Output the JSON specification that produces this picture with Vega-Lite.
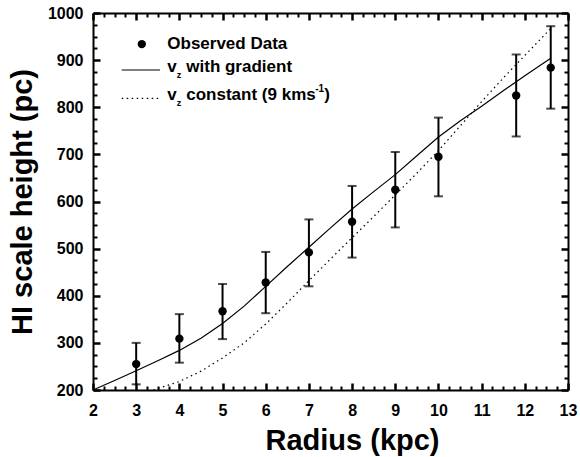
{
  "$schema": "https://vega.github.io/schema/vega-lite/v6.json",
  "width": 475,
  "height": 377,
  "autosize": {"type": "none"},
  "padding": {"left": 93, "top": 13, "right": 12, "bottom": 67},
  "background": "white",
  "config": {
    "view": {"stroke": null},
    "font": "Liberation Sans",
    "axis": {
      "domainColor": "black", "domainWidth": 2, "tickColor": "black", "tickWidth": 2.5,
      "labelFont": "Liberation Sans", "labelFontWeight": "bold", "labelFontSize": 16, "labelColor": "black",
      "titleFont": "Liberation Sans", "titleFontWeight": "bold", "titleFontSize": 29, "titleColor": "black",
      "grid": false, "labelOverlap": false, "labelBound": false, "labelFlush": false
    }
  },
  "datasets": {
    "obs": [
      {"r": 3, "h": 255, "lo": 212, "hi": 300},
      {"r": 4, "h": 309, "lo": 258, "hi": 361},
      {"r": 5, "h": 367, "lo": 308, "hi": 425},
      {"r": 6, "h": 428, "lo": 363, "hi": 493},
      {"r": 7, "h": 492, "lo": 420, "hi": 562},
      {"r": 8, "h": 557, "lo": 481, "hi": 633},
      {"r": 9, "h": 625, "lo": 545, "hi": 705},
      {"r": 10, "h": 695, "lo": 611, "hi": 778},
      {"r": 11.8, "h": 825, "lo": 738, "hi": 912},
      {"r": 12.6, "h": 884, "lo": 797, "hi": 972}
    ],
    "grad": [
      {"r": 2, "h": 200}, {"r": 2.5, "h": 220}, {"r": 3, "h": 241}, {"r": 3.5, "h": 262},
      {"r": 4, "h": 284}, {"r": 4.5, "h": 310}, {"r": 5, "h": 341}, {"r": 5.5, "h": 378},
      {"r": 6, "h": 420}, {"r": 6.5, "h": 462}, {"r": 7, "h": 503}, {"r": 7.5, "h": 544},
      {"r": 8, "h": 584}, {"r": 8.5, "h": 621}, {"r": 9, "h": 657}, {"r": 9.5, "h": 697},
      {"r": 10, "h": 737}, {"r": 10.5, "h": 771}, {"r": 11, "h": 802}, {"r": 11.5, "h": 835},
      {"r": 12, "h": 867}, {"r": 12.6, "h": 904}
    ],
    "const": [
      {"r": 3.4, "h": 200}, {"r": 4, "h": 218}, {"r": 4.5, "h": 240}, {"r": 5, "h": 268},
      {"r": 5.5, "h": 300}, {"r": 6, "h": 340}, {"r": 6.5, "h": 385}, {"r": 7, "h": 432},
      {"r": 7.5, "h": 478}, {"r": 8, "h": 523}, {"r": 8.5, "h": 568}, {"r": 9, "h": 614},
      {"r": 9.5, "h": 660}, {"r": 10, "h": 708}, {"r": 10.5, "h": 760}, {"r": 11, "h": 812},
      {"r": 11.5, "h": 862}, {"r": 12, "h": 910}, {"r": 12.6, "h": 967}
    ],
    "one": [{}]
  },
  "resolve": {"axis": {"x": "independent", "y": "independent"}},
  "layer": [
    {
      "data": {"name": "grad"},
      "mark": {"type": "line", "color": "black", "strokeWidth": 1.2},
      "encoding": {
        "x": {"field": "r", "type": "quantitative", "scale": {"domain": [2, 13], "nice": false, "zero": false},
          "axis": {"orient": "bottom", "title": "Radius (kpc)", "titlePadding": 8, "titleX": 259, "titleAlign": "center",
            "values": [2,3,4,5,6,7,8,9,10,11,12,13], "format": "d", "ticks": false, "labelPadding": 12}},
        "y": {"field": "h", "type": "quantitative", "scale": {"domain": [200, 1000], "nice": false, "zero": false},
          "axis": {"orient": "left", "title": "HI scale height (pc)", "titlePadding": 10,
            "values": [200,300,400,500,600,700,800,900,1000], "format": "d", "ticks": false, "labelPadding": 10}}
      }
    },
    {
      "data": {"name": "const"},
      "mark": {"type": "line", "color": "black", "strokeWidth": 1.2, "strokeDash": [1.5, 3.5]},
      "encoding": {
        "x": {"field": "r", "type": "quantitative",
          "axis": {"orient": "top", "title": null, "labels": false, "ticks": false,
            "values": [2,3,4,5,6,7,8,9,10,11,12,13]}},
        "y": {"field": "h", "type": "quantitative",
          "axis": {"orient": "right", "title": null, "labels": false, "ticks": false,
            "values": [200,300,400,500,600,700,800,900,1000]}}
      }
    },
    {
      "data": {"name": "obs"},
      "mark": {"type": "rule", "color": "black", "strokeWidth": 2},
      "encoding": {
        "x": {"field": "r", "type": "quantitative",
          "axis": {"orient": "bottom", "title": null, "labels": false, "domain": false, "ticks": true, "tickSize": -7, "tickColor": "black", "tickWidth": 2.5,
            "values": [2,3,4,5,6,7,8,9,10,11,12,13]}},
        "y": {"field": "lo", "type": "quantitative",
          "axis": {"orient": "left", "title": null, "labels": false, "domain": false, "ticks": true, "tickSize": -7, "tickColor": "black", "tickWidth": 2.5,
            "values": [200,300,400,500,600,700,800,900,1000]}},
        "y2": {"field": "hi"}
      }
    },
    {
      "data": {"name": "obs"},
      "mark": {"type": "tick", "orient": "horizontal", "color": "black", "size": 9, "thickness": 2},
      "encoding": {
        "x": {"field": "r", "type": "quantitative",
          "axis": {"orient": "top", "title": null, "labels": false, "domain": false, "ticks": true, "tickSize": -7, "tickColor": "black", "tickWidth": 2.5,
            "values": [2,3,4,5,6,7,8,9,10,11,12,13]}},
        "y": {"field": "lo", "type": "quantitative",
          "axis": {"orient": "right", "title": null, "labels": false, "domain": false, "ticks": true, "tickSize": -7, "tickColor": "black", "tickWidth": 2.5,
            "values": [200,300,400,500,600,700,800,900,1000]}}
      }
    },
    {
      "data": {"name": "obs"},
      "mark": {"type": "tick", "orient": "horizontal", "color": "black", "size": 9, "thickness": 2},
      "encoding": {
        "x": {"field": "r", "type": "quantitative",
          "axis": {"orient": "bottom", "title": null, "labels": false, "domain": false, "ticks": true, "tickSize": -4, "tickColor": "black", "tickWidth": 2,
            "values": [2.25,2.5,2.75,3.25,3.5,3.75,4.25,4.5,4.75,5.25,5.5,5.75,6.25,6.5,6.75,7.25,7.5,7.75,8.25,8.5,8.75,9.25,9.5,9.75,10.25,10.5,10.75,11.25,11.5,11.75,12.25,12.5,12.75]}},
        "y": {"field": "hi", "type": "quantitative",
          "axis": {"orient": "left", "title": null, "labels": false, "domain": false, "ticks": true, "tickSize": -4, "tickColor": "black", "tickWidth": 2,
            "values": [225,250,275,325,350,375,425,450,475,525,550,575,625,650,675,725,750,775,825,850,875,925,950,975]}}
      }
    },
    {
      "data": {"name": "obs"},
      "mark": {"type": "point", "filled": true, "color": "black", "size": 70, "opacity": 1},
      "encoding": {
        "x": {"field": "r", "type": "quantitative",
          "axis": {"orient": "top", "title": null, "labels": false, "domain": false, "ticks": true, "tickSize": -4, "tickColor": "black", "tickWidth": 2,
            "values": [2.25,2.5,2.75,3.25,3.5,3.75,4.25,4.5,4.75,5.25,5.5,5.75,6.25,6.5,6.75,7.25,7.5,7.75,8.25,8.5,8.75,9.25,9.5,9.75,10.25,10.5,10.75,11.25,11.5,11.75,12.25,12.5,12.75]}},
        "y": {"field": "h", "type": "quantitative",
          "axis": {"orient": "right", "title": null, "labels": false, "domain": false, "ticks": true, "tickSize": -4, "tickColor": "black", "tickWidth": 2,
            "values": [225,250,275,325,350,375,425,450,475,525,550,575,625,650,675,725,750,775,825,850,875,925,950,975]}}
      }
    },
    {
      "data": {"name": "one"},
      "mark": {"type": "point", "filled": true, "color": "black", "size": 70, "opacity": 1},
      "encoding": {"x": {"datum": 3.13, "type": "quantitative", "axis": null}, "y": {"datum": 934, "type": "quantitative", "axis": null}}
    },
    {
      "data": {"name": "one"},
      "mark": {"type": "rule", "color": "black", "strokeWidth": 1.2},
      "encoding": {"x": {"datum": 2.665, "type": "quantitative", "axis": null}, "x2": {"datum": 3.552}, "y": {"datum": 879, "type": "quantitative", "axis": null}}
    },
    {
      "data": {"name": "one"},
      "mark": {"type": "rule", "color": "black", "strokeWidth": 1.2, "strokeDash": [1.5, 3.5]},
      "encoding": {"x": {"datum": 2.665, "type": "quantitative", "axis": null}, "x2": {"datum": 3.552}, "y": {"datum": 819, "type": "quantitative", "axis": null}}
    },
    {
      "data": {"name": "one"},
      "mark": {"type": "text", "align": "left", "baseline": "middle", "font": "Liberation Sans", "fontWeight": "bold", "fontSize": 17, "color": "black"},
      "encoding": {"x": {"datum": 3.72, "type": "quantitative", "axis": null}, "y": {"datum": 934, "type": "quantitative", "axis": null}, "text": {"value": "Observed Data"}}
    },
    {
      "data": {"name": "one"},
      "mark": {"type": "text", "align": "left", "baseline": "middle", "font": "Liberation Sans", "fontWeight": "bold", "fontSize": 17, "color": "black", "dy": -3},
      "encoding": {"x": {"datum": 3.72, "type": "quantitative", "axis": null}, "y": {"datum": 879, "type": "quantitative", "axis": null}, "text": {"value": "v"}}
    },
    {
      "data": {"name": "one"},
      "mark": {"type": "text", "align": "left", "baseline": "middle", "font": "Liberation Sans", "fontWeight": "bold", "fontSize": 9, "color": "black", "dx": 9.5, "dy": 5},
      "encoding": {"x": {"datum": 3.72, "type": "quantitative", "axis": null}, "y": {"datum": 879, "type": "quantitative", "axis": null}, "text": {"value": "z"}}
    },
    {
      "data": {"name": "one"},
      "mark": {"type": "text", "align": "left", "baseline": "middle", "font": "Liberation Sans", "fontWeight": "bold", "fontSize": 17, "color": "black", "dx": 19, "dy": -3},
      "encoding": {"x": {"datum": 3.72, "type": "quantitative", "axis": null}, "y": {"datum": 879, "type": "quantitative", "axis": null}, "text": {"value": "with gradient"}}
    },
    {
      "data": {"name": "one"},
      "mark": {"type": "text", "align": "left", "baseline": "middle", "font": "Liberation Sans", "fontWeight": "bold", "fontSize": 17, "color": "black", "dy": -3},
      "encoding": {"x": {"datum": 3.72, "type": "quantitative", "axis": null}, "y": {"datum": 819, "type": "quantitative", "axis": null}, "text": {"value": "v"}}
    },
    {
      "data": {"name": "one"},
      "mark": {"type": "text", "align": "left", "baseline": "middle", "font": "Liberation Sans", "fontWeight": "bold", "fontSize": 9, "color": "black", "dx": 9.5, "dy": 5},
      "encoding": {"x": {"datum": 3.72, "type": "quantitative", "axis": null}, "y": {"datum": 819, "type": "quantitative", "axis": null}, "text": {"value": "z"}}
    },
    {
      "data": {"name": "one"},
      "mark": {"type": "text", "align": "left", "baseline": "middle", "font": "Liberation Sans", "fontWeight": "bold", "fontSize": 17, "color": "black", "dx": 19, "dy": -3},
      "encoding": {"x": {"datum": 3.72, "type": "quantitative", "axis": null}, "y": {"datum": 819, "type": "quantitative", "axis": null}, "text": {"value": "constant (9 kms"}}
    },
    {
      "data": {"name": "one"},
      "mark": {"type": "text", "align": "left", "baseline": "middle", "font": "Liberation Sans", "fontWeight": "bold", "fontSize": 10, "color": "black", "dx": 148, "dy": -9},
      "encoding": {"x": {"datum": 3.72, "type": "quantitative", "axis": null}, "y": {"datum": 819, "type": "quantitative", "axis": null}, "text": {"value": "-1"}}
    },
    {
      "data": {"name": "one"},
      "mark": {"type": "text", "align": "left", "baseline": "middle", "font": "Liberation Sans", "fontWeight": "bold", "fontSize": 17, "color": "black", "dx": 157, "dy": -3},
      "encoding": {"x": {"datum": 3.72, "type": "quantitative", "axis": null}, "y": {"datum": 819, "type": "quantitative", "axis": null}, "text": {"value": ")"}}
    }
  ]
}
